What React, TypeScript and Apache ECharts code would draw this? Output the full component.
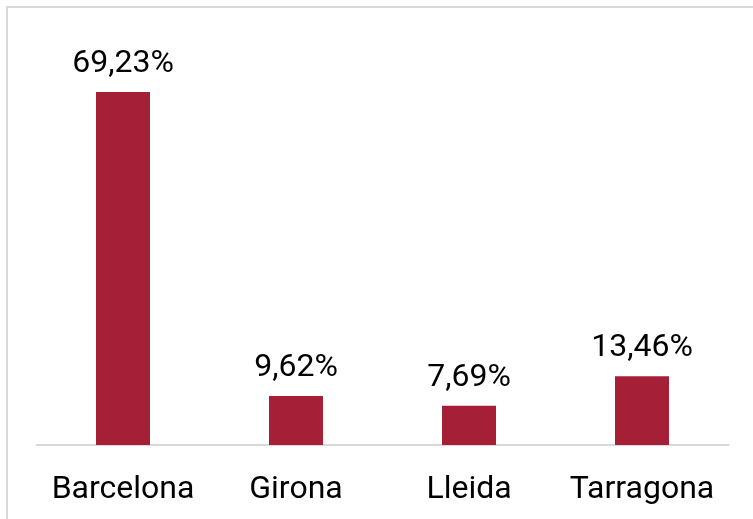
import React, { useEffect, useRef } from "react";
import * as echarts from "echarts";

const categories = ["Barcelona", "Girona", "Lleida", "Tarragona"];
const values = [69.23, 9.62, 7.69, 13.46];

export default function App() {
  const ref = useRef<HTMLDivElement>(null);
  useEffect(() => {
    if (!ref.current) return;
    const chart = echarts.init(ref.current, null, { renderer: "svg" });
    chart.setOption({
      animation: false,
      textStyle: { fontFamily: "Roboto" },
      graphic: [
        {
          type: "rect",
          shape: { x: 7, y: 7, width: 800, height: 600 },
          style: { fill: "none", stroke: "#d9d9d9", lineWidth: 2 },
          silent: true,
        },
      ],
      grid: { left: 36.5, right: 24.5, top: 37, bottom: 74 },
      xAxis: {
        type: "category",
        data: categories,
        axisLine: { lineStyle: { color: "#d9d9d9", width: 2 } },
        axisTick: { show: false },
        axisLabel: {
          color: "#000",
          fontSize: 32,
          fontFamily: "Roboto",
          margin: 26,
          interval: 0,
          hideOverlap: false,
        },
      },
      yAxis: {
        type: "value",
        min: 0,
        max: 80,
        show: false,
        splitLine: { show: false },
      },
      series: [
        {
          type: "bar",
          data: values,
          barWidth: 54,
          itemStyle: { color: "#A51F36" },
          label: {
            show: true,
            position: "top",
            distance: 15,
            color: "#000",
            fontSize: 32,
            fontFamily: "Roboto",
            formatter: (p: any) => p.value.toFixed(2).replace(".", ",") + "%",
          },
        },
      ],
    });
    return () => chart.dispose();
  }, []);
  return (
    <div
      ref={ref}
      style={{ position: "fixed", left: 0, top: 0, width: 753, height: 519 }}
    />
  );
}
